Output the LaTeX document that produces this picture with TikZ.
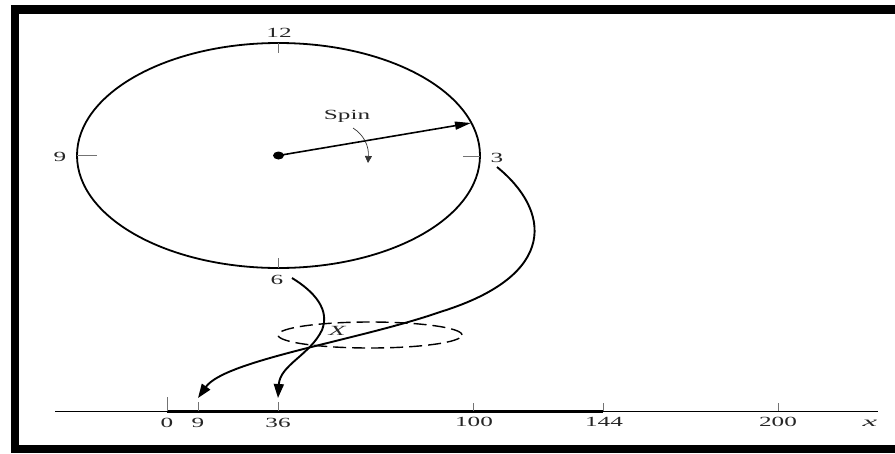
\documentclass[tikz,border=0pt]{standalone}
\usepackage{fontspec}
\setmainfont{Liberation Serif}
\usetikzlibrary{arrows.meta,shapes.geometric}
\begin{document}
\begin{tikzpicture}[x=1pt,y=-1pt,
  lbl/.style={inner sep=0pt, text=black!85, font=\fontsize{14}{16}\selectfont, xscale=1.8},
  tk/.style={draw=black!55, line width=0.7pt},
  bigarrow/.style={line width=1.9pt, -{Triangle[length=14pt,width=10pt]}},
  dotmark/.style={fill=black, ellipse, inner sep=0pt, minimum width=11pt, minimum height=8pt}]
\useasboundingbox (0,0) rectangle (895,453);
% frame
\draw[line width=8.5pt] (15,9.5) -- (15,449) -- (920,449);
\draw[line width=9pt] (10.75,9.5) -- (920,9.5);
% clock face
\node[draw, ellipse, line width=1.8pt, inner sep=0pt, minimum width=403pt, minimum height=225pt] (clock) at (278.5,155.5) {};
\node[dotmark] (hub) at (278.5,155.5) {};
% clock ticks
\draw[tk] (278.5,43) -- (278.5,53);
\draw[tk] (77,155.5) -- (97,155.5);
\draw[tk] (463,156) -- (480,156);
\draw[tk] (278.5,258) -- (278.5,268);
% clock labels
\node[lbl] (l12) at (279,33) {12};
\node[lbl] (l9) at (60,157) {9};
\node[lbl] (l3) at (497,158) {3};
\node[lbl] (l6) at (277,280) {6};
% spin
\coordinate (rim) at (471,123);
\draw[line width=1.6pt, -{Triangle[length=16pt,width=8pt]}] (hub.center) -- (rim);
\node[lbl] (spin) at (347,116) {Spin};
\coordinate (spinA) at (353,128);
\coordinate (spinB) at (368,163);
\draw[line width=0.7pt, black!80, -{Triangle[length=7pt,width=7pt]}] (spinA) .. controls (364,135) and (369,146) .. (spinB);
% dashed region X
\node[draw, ellipse, dash pattern=on 13pt off 6pt, line width=1.4pt, inner sep=0pt, minimum width=184pt, minimum height=26pt] (region) at (370,335) {};
\node[lbl, font=\fontsize{14}{16}\selectfont\itshape, xscale=1.1] (X) at (337,331) {X};
% axis
\coordinate (axL) at (55,411.5);
\coordinate (axR) at (878,411.5);
\coordinate (a0) at (167,411.5);
\coordinate (a144) at (603,411.5);
\draw[line width=1.5pt] (axL) -- (axR);
\draw[line width=2.5pt] (a0) -- (a144);
\draw[tk] (167,397) -- (167,411);
\draw[tk] (198,402) -- (198,411);
\draw[tk] (278,402) -- (278,411);
\draw[tk] (473,403) -- (473,411);
\draw[tk] (603,403) -- (603,411);
\draw[tk] (778,403) -- (778,411);
\node[lbl] (n0) at (167,423) {0};
\node[lbl] (n9) at (198,423) {9};
\node[lbl] (n36) at (278,423) {36};
\node[lbl] (n100) at (474,422) {100};
\node[lbl] (n144) at (604,422) {144};
\node[lbl] (n200) at (778,422) {200};
\node[lbl, font=\fontsize{14}{16}\selectfont\itshape, xscale=1.3] (nx) at (870,423) {x};
% mapping arrows
\coordinate (s3) at (497,167);
\coordinate (s6) at (292,278);
\coordinate (t9) at (198,398);
\coordinate (t36) at (278,398);
\draw[bigarrow] (s3) .. controls (550,210) and (560,275) .. (440,312) .. controls (360,340) and (225,360) .. (t9);
\draw[bigarrow] (s6) .. controls (315,292) and (330,310) .. (322,330) .. controls (310,355) and (280,365) .. (t36);
\end{tikzpicture}
\end{document}
